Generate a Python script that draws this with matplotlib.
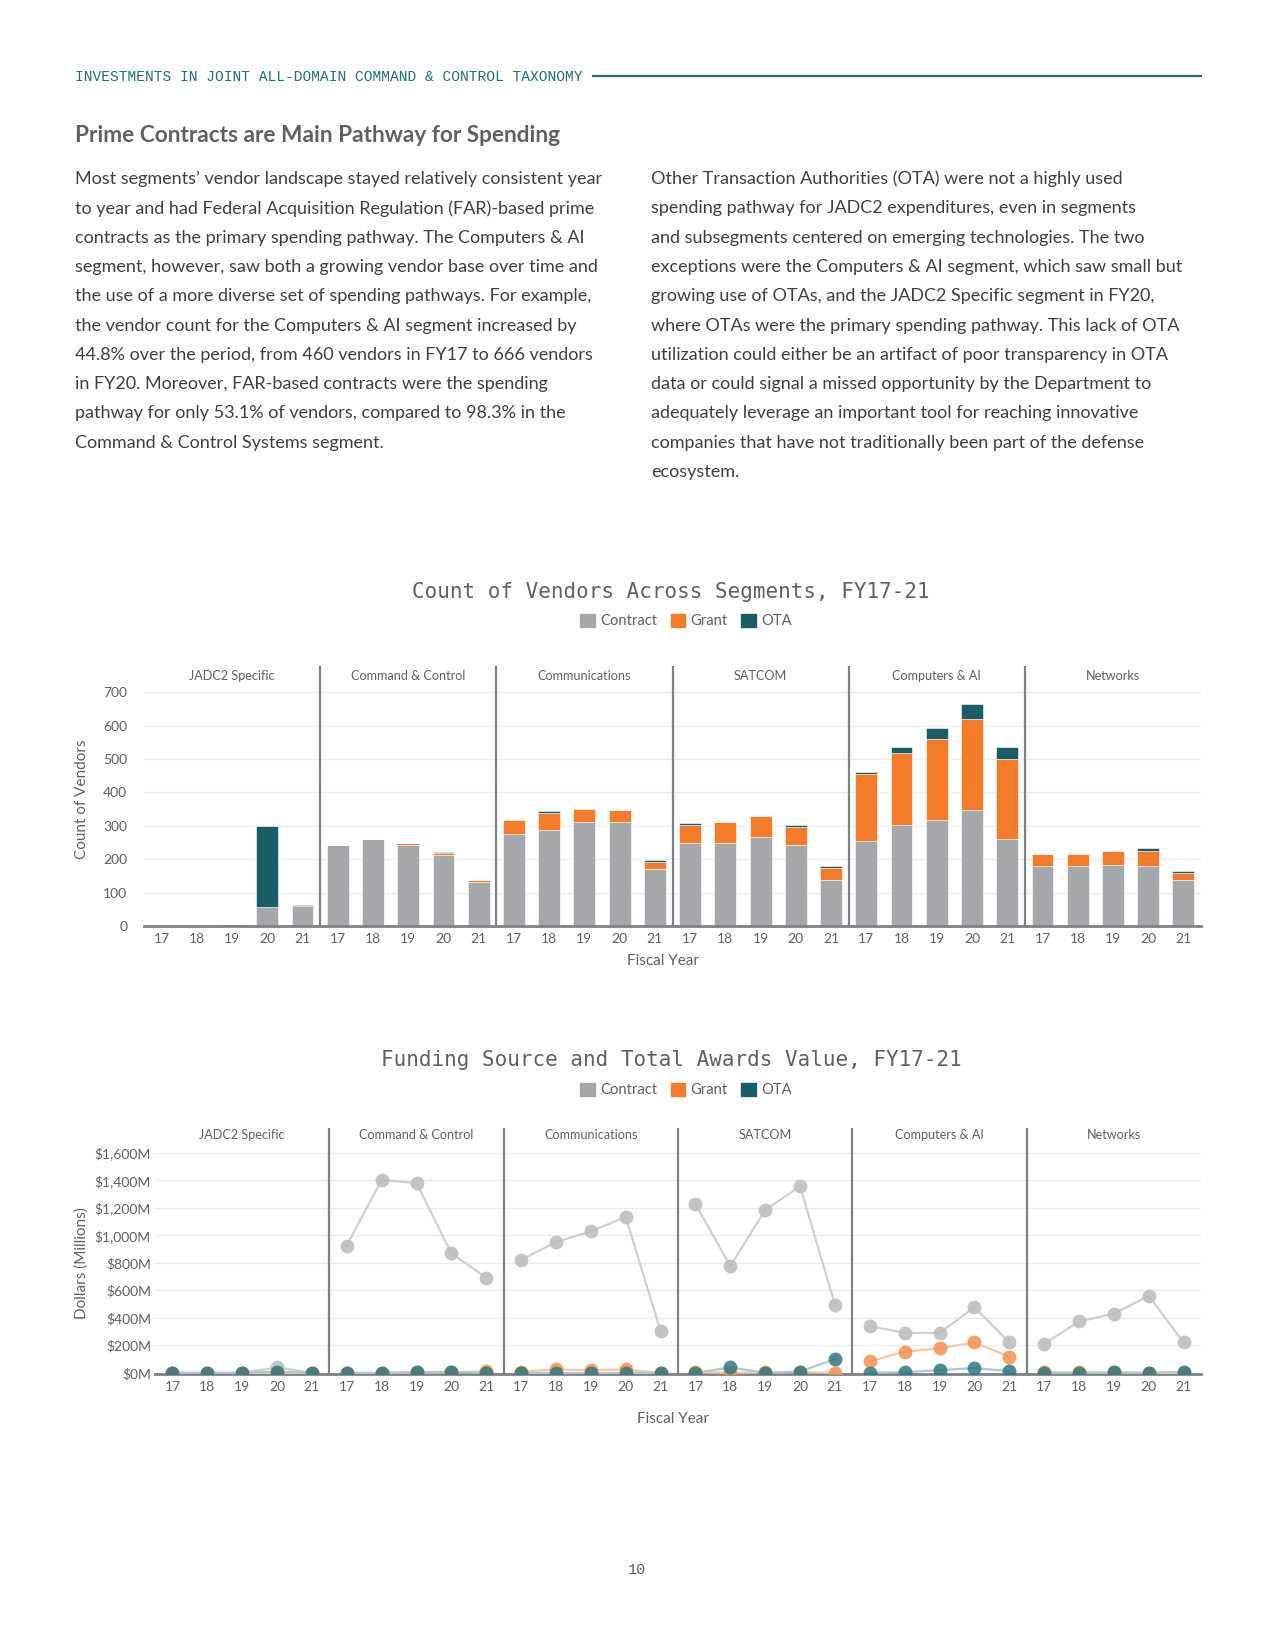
import matplotlib.pyplot as plt
from matplotlib.lines import Line2D
from matplotlib.patches import Patch
from matplotlib.ticker import FuncFormatter
import numpy as np

plt.rcParams['font.family'] = ['Lato', 'DejaVu Sans']

# ---- data ----
segments = ['JADC2 Specific', 'Command & Control', 'Communications',
            'SATCOM', 'Computers & AI', 'Networks']
years = ['17', '18', '19', '20', '21']

# count of vendors, FY17-21 per segment
vendors_contract = [0, 0, 5, 57, 60,
                    243, 262, 243, 213, 133,
                    276, 289, 312, 312, 170,
                    248, 248, 267, 243, 138,
                    256, 303, 317, 349, 262,
                    180, 180, 184, 180, 138]
vendors_grant = [0, 0, 0, 0, 0,
                 0, 0, 6, 5, 5,
                 41, 51, 38, 37, 22,
                 54, 64, 64, 55, 37,
                 198, 215, 242, 270, 238,
                 36, 36, 41, 45, 22]
vendors_ota = [0, 0, 0, 243, 4,
               0, 0, 0, 4, 0,
               0, 5, 0, 0, 5,
               6, 0, 0, 5, 5,
               6, 19, 33, 47, 37,
               0, 0, 0, 9, 6]

# total awards value, $M
dollars_contract = [0, 0, 0, 40, 0,
                    926, 1404, 1380, 869, 693,
                    822, 951, 1030, 1134, 304,
                    1228, 777, 1184, 1357, 497,
                    339, 292, 290, 478, 222,
                    210, 374, 431, 560, 222]
dollars_grant = [0, 0, 0, 0, 0,
                 0, 0, 3, 3, 12,
                 10, 25, 20, 25, 0,
                 5, 0, 5, 5, 0,
                 83, 155, 178, 222, 118,
                 3, 3, 3, 0, 0]
dollars_ota = [0, 0, 0, 10, 0,
               0, 0, 5, 8, 0,
               0, 0, 0, 0, 0,
               0, 40, 0, 10, 100,
               0, 5, 20, 35, 12,
               0, 0, 3, 0, 8]

left_text = [
    "Most segments\u2019 vendor landscape stayed relatively consistent year",
    "to year and had Federal Acquisition Regulation (FAR)-based prime",
    "contracts as the primary spending pathway. The Computers & AI",
    "segment, however, saw both a growing vendor base over time and",
    "the use of a more diverse set of spending pathways. For example,",
    "the vendor count for the Computers & AI segment increased by",
    "44.8% over the period, from 460 vendors in FY17 to 666 vendors",
    "in FY20. Moreover, FAR-based contracts were the spending",
    "pathway for only 53.1% of vendors, compared to 98.3% in the",
    "Command & Control Systems segment.",
]
right_text = [
    "Other Transaction Authorities (OTA) were not a highly used",
    "spending pathway for JADC2 expenditures, even in segments",
    "and subsegments centered on emerging technologies. The two",
    "exceptions were the Computers & AI segment, which saw small but",
    "growing use of OTAs, and the JADC2 Specific segment in FY20,",
    "where OTAs were the primary spending pathway. This lack of OTA",
    "utilization could either be an artifact of poor transparency in OTA",
    "data or could signal a missed opportunity by the Department to",
    "adequately leverage an important tool for reaching innovative",
    "companies that have not traditionally been part of the defense",
    "ecosystem.",
]

# ---- style ----
GRAY = '#a4a8ab'
ORANGE = '#f47b2a'
TEAL = '#1a5d66'
HEAD_TEAL = '#1f6f7a'
TXT = '#5b6166'
BODY = '#3b4045'
DIV = '#7b8287'
GRID = '#ebebeb'

W, H = 1275, 1650
fig = plt.figure(figsize=(W / 100, H / 100), dpi=100)


def fx(x):
    return x / W


def fy(y):
    return 1 - y / H


# page header
fig.text(fx(75), fy(77), 'INVESTMENTS IN JOINT ALL-DOMAIN COMMAND & CONTROL TAXONOMY',
         family='Liberation Mono', fontsize=10.5, color=HEAD_TEAL, va='center')
fig.add_artist(Line2D([fx(593), fx(1201)], [fy(76), fy(76)], color=HEAD_TEAL, lw=1.6))

fig.text(fx(75), fy(135), 'Prime Contracts are Main Pathway for Spending',
         fontsize=16.3, fontweight='bold', color=TXT, va='center')

for i, line in enumerate(left_text):
    fig.text(fx(75), fy(179 + 29.3 * i), line, fontsize=13, color=BODY, va='center')
for i, line in enumerate(right_text):
    fig.text(fx(651), fy(179 + 29.3 * i), line, fontsize=13, color=BODY, va='center')

x = np.arange(len(segments) * len(years))
xlabels = years * len(segments)
legend_handles = [Patch(color=GRAY, label='Contract'),
                  Patch(color=ORANGE, label='Grant'),
                  Patch(color=TEAL, label='OTA')]


def style_axes(ax, header_y):
    ax.set_xlim(-0.5, len(x) - 0.5)
    ax.set_xticks(x)
    ax.set_xticklabels(xlabels)
    for s in ['top', 'right', 'left']:
        ax.spines[s].set_visible(False)
    ax.spines['bottom'].set_color(DIV)
    ax.spines['bottom'].set_linewidth(2)
    ax.tick_params(axis='both', length=0, labelsize=10, labelcolor=TXT)
    ax.tick_params(axis='x', pad=5)
    ax.grid(axis='y', color=GRID, lw=1)
    ax.set_axisbelow(True)
    for k in range(1, len(segments)):
        ax.axvline(k * len(years) - 0.5, color=DIV, lw=1.6, zorder=5)
    for k, name in enumerate(segments):
        ax.text(k * len(years) + 2, header_y, name, ha='center', va='center',
                fontsize=9.1, color=TXT)


# ---- chart 1: vendor counts ----
fig.text(fx(671), fy(592), 'Count of Vendors Across Segments, FY17-21',
         family='DejaVu Sans Mono', fontsize=15, color=TXT, ha='center', va='center')
fig.legend(handles=legend_handles, loc='center', bbox_to_anchor=(fx(686), fy(621)),
           ncol=3, frameon=False, fontsize=10.6, handlelength=1.0, handleheight=1.0,
           handletextpad=0.35, columnspacing=0.9, labelcolor=TXT)

ax1 = fig.add_axes([fx(144), fy(926), fx(1201) - fx(144), (926 - 666) / H])
c = np.array(vendors_contract)
g = np.array(vendors_grant)
o = np.array(vendors_ota)
ax1.bar(x, c, width=0.62, color=GRAY, edgecolor='white', linewidth=0.4)
ax1.bar(x, g, width=0.62, bottom=c, color=ORANGE, edgecolor='white', linewidth=0.4)
ax1.bar(x, o, width=0.62, bottom=c + g, color=TEAL, edgecolor='white', linewidth=0.4)
ax1.set_ylim(0, 779)
ax1.set_yticks(range(0, 701, 100))
ax1.tick_params(axis='y', pad=12)
style_axes(ax1, 750)
fig.text(fx(663), fy(961), 'Fiscal Year', fontsize=11, color=TXT, ha='center', va='center')
fig.text(fx(82), fy(799), 'Count of Vendors', fontsize=11, color=TXT, rotation=90,
         ha='center', va='center')

# ---- chart 2: award dollars ----
fig.text(fx(671), fy(1060), 'Funding Source and Total Awards Value, FY17-21',
         family='DejaVu Sans Mono', fontsize=15, color=TXT, ha='center', va='center')
fig.legend(handles=legend_handles, loc='center', bbox_to_anchor=(fx(686), fy(1090)),
           ncol=3, frameon=False, fontsize=10.6, handlelength=1.0, handleheight=1.0,
           handletextpad=0.35, columnspacing=0.9, labelcolor=TXT)

ax2 = fig.add_axes([fx(155), fy(1374), fx(1201) - fx(155), (1374 - 1128) / H])
series = [(dollars_contract, '#cdd0d2', '#bcbfc2', 0.9),
          (dollars_grant, '#f8c6a4', '#f4914f', 0.85),
          (dollars_ota, '#a9cacd', '#2f7880', 0.85)]
for vals, lc, mc, a in series:
    vals = np.array(vals)
    for k in range(len(segments)):
        sl = slice(k * len(years), (k + 1) * len(years))
        ax2.plot(x[sl], vals[sl], color=lc, lw=1.6, zorder=3)
        ax2.plot(x[sl], vals[sl], 'o', ms=10, color=mc, alpha=a, mec='none', zorder=4)
ax2.set_ylim(-8, 1781)
ax2.set_yticks(range(0, 1601, 200))
ax2.yaxis.set_major_formatter(FuncFormatter(lambda v, p: f'${v:,.0f}M'))
ax2.tick_params(axis='y', pad=3)
style_axes(ax2, 1730)
fig.text(fx(673), fy(1419), 'Fiscal Year', fontsize=11, color=TXT, ha='center', va='center')
fig.text(fx(82), fy(1263), 'Dollars (Millions)', fontsize=11, color=TXT, rotation=90,
         ha='center', va='center')

fig.text(fx(637), fy(1570), '10', family='Liberation Mono', fontsize=11, color=TXT,
         ha='center', va='center')

fig.savefig('out.png', dpi=100, facecolor='white')
